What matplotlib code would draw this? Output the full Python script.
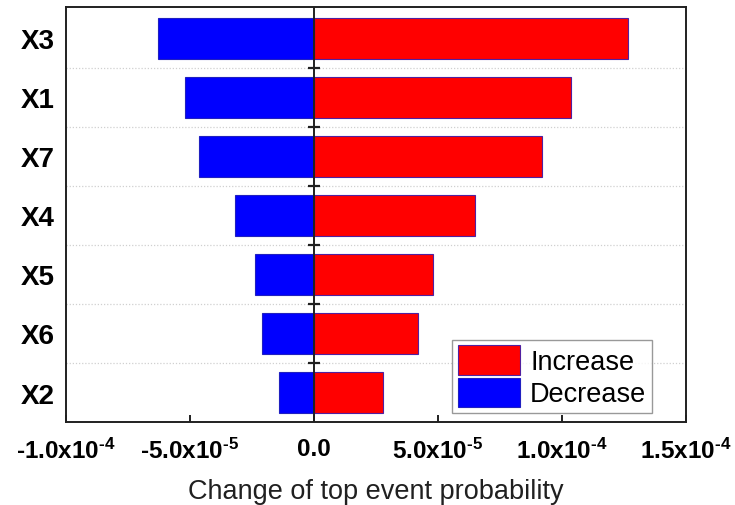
import matplotlib
matplotlib.use("Agg")
from matplotlib import pyplot as plt
import numpy as np

plt.rcParams['font.family'] = ['Liberation Sans', 'DejaVu Sans']
plt.rcParams['mathtext.fontset'] = 'custom'
plt.rcParams['mathtext.rm'] = 'Liberation Sans:bold'
plt.rcParams['mathtext.default'] = 'regular'

# sensitivity of the top event probability, one row per basic event
events = ['X3', 'X1', 'X7', 'X4', 'X5', 'X6', 'X2']
increase = [12.66e-5, 10.36e-5, 9.19e-5, 6.49e-5, 4.81e-5, 4.18e-5, 2.79e-5]
decrease = [-6.29e-5, -5.20e-5, -4.62e-5, -3.20e-5, -2.39e-5, -2.11e-5, -1.41e-5]

xticks = [-1.0e-4, -5.0e-5, 0.0, 5.0e-5, 1.0e-4, 1.5e-4]
xticklabels = [r'-1.0x10$^{\text{-4}}$', r'-5.0x10$^{\text{-5}}$', '0.0',
               r'5.0x10$^{\text{-5}}$', r'1.0x10$^{\text{-4}}$', r'1.5x10$^{\text{-4}}$']

fig = plt.figure(figsize=(7.35, 5.06), dpi=100)
axe = fig.add_axes([0.0898, 0.164, 0.8435, 0.820])

y = np.arange(len(events))[::-1]
axe.barh(y, increase, height=0.7, color='#ff0000', edgecolor='#5020a0',
         linewidth=0.8, label='Increase', zorder=3)
axe.barh(y, decrease, height=0.7, color='#0000ff', edgecolor='#2020c0',
         linewidth=0.8, label='Decrease', zorder=3)

# separators between rows
bounds = np.arange(len(events) - 1) + 0.5
for b in bounds:
    axe.axhline(b, color='#d0d0d0', linestyle=(0, (1, 1.5)), linewidth=0.9, zorder=1)
axe.axvline(0, color='#202020', linewidth=1.4, zorder=4)
axe.plot(np.zeros(len(bounds)), bounds, linestyle='none', marker='_',
         markersize=8, markeredgewidth=1.6, color='#202020', zorder=5)

axe.set_xlim(-1.0e-4, 1.5e-4)
axe.set_ylim(-0.5, 6.53)

axe.set_yticks(y)
axe.set_yticklabels(events, fontsize=20, fontweight='bold')
axe.tick_params(axis='y', length=0, pad=8)

axe.set_xticks(xticks)
axe.set_xticklabels(xticklabels, fontsize=17.5, fontweight='bold')
axe.tick_params(axis='x', direction='in', length=5, width=1.4, pad=11,
                color='#202020')
axe.set_xlabel('Change of top event probability', fontsize=19.5,
               color='#202020')
axe.xaxis.set_label_coords(0.5, -0.135)

for sp in axe.spines.values():
    sp.set_linewidth(1.4)
    sp.set_color('#202020')

leg = axe.legend(loc='lower right', bbox_to_anchor=(0.945, 0.022),
                 fontsize=19.5, frameon=True, fancybox=False,
                 edgecolor='#808080', handlelength=2.3, handleheight=1.3,
                 labelspacing=0.1, handletextpad=0.38, borderpad=0.2,
                 borderaxespad=0)
leg.get_frame().set_linewidth(1.0)

fig.savefig('out.png', dpi=100)
